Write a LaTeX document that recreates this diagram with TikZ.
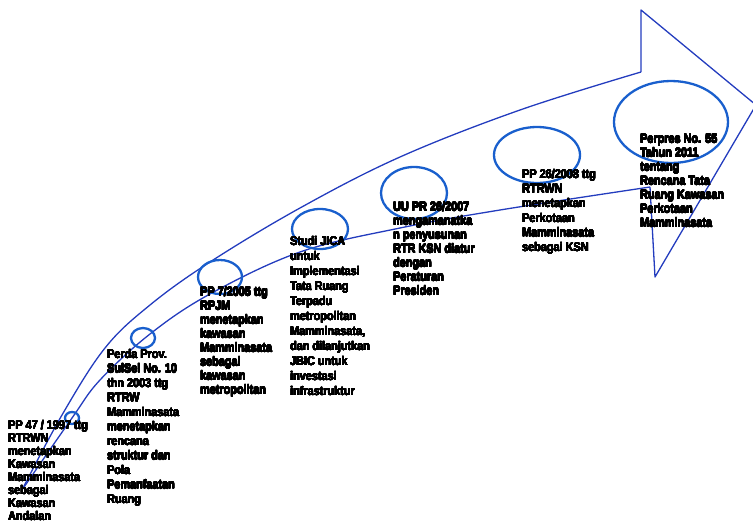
\documentclass[tikz,border=0pt]{standalone}
\usepackage{fontspec}
\setmainfont{Liberation Sans}
\usepackage{graphicx}
\usepackage{contour}
\usetikzlibrary{shapes.geometric}

\definecolor{edgeblue}{RGB}{35,60,190}
\definecolor{ringblue}{RGB}{25,95,205}

\contourlength{0.2pt}
\contournumber{16}
% narrow heavy block of lines, left aligned
\newcommand{\memo}[1]{\contour{black}{\scalebox{0.87}[1]{\begin{tabular}{@{}l@{}}#1\end{tabular}}}}

\tikzset{
    note/.style={anchor=north west, inner sep=0pt,
        font=\bfseries\fontsize{12.5}{14}\selectfont},
    ring/.style={draw=ringblue, line width=2.3pt, ellipse, inner sep=0pt},
    edge/.style={draw=edgeblue, line width=1.3pt, line join=round}
}

\begin{document}
\begin{tikzpicture}[x=1pt, y=-1pt]
    \useasboundingbox (0,0) rectangle (753,525);
    % curved arrow body and head
    \coordinate (tail) at (22,490);
    \coordinate (up) at (641,72);
    \coordinate (top) at (641,10);
    \coordinate (tip) at (756,105);
    \coordinate (bot) at (655,277);
    \coordinate (low) at (650,187);
    \draw[edge] plot[smooth, tension=0.6] coordinates {(22,490) (62,415) (105,348) (150,305) (210,262) (300,208) (400,157) (520,110) (641,72)};
    \draw[edge] plot[smooth, tension=0.6] coordinates {(22,490) (72,418) (100,380) (150,334) (210,294) (300,252) (400,228) (500,210) (650,187)};
    \draw[edge] (up) -- (top) -- (tip) -- (bot) -- (low);

    % rings
    \node[ring, minimum width=14pt, minimum height=12pt] (r1) at (72,418) {};
    \node[ring, minimum width=24pt, minimum height=20pt] (r2) at (143,338) {};
    \node[ring, minimum width=44pt, minimum height=34pt] (r3) at (220,277) {};
    \node[ring, minimum width=56pt, minimum height=40pt] (r4) at (320,229) {};
    \node[ring, minimum width=66pt, minimum height=52pt] (r5) at (414,193) {};
    \node[ring, minimum width=86pt, minimum height=56pt] (r6) at (537,155) {};
    \node[ring, minimum width=114pt, minimum height=82pt] (r7) at (671,122) {};

    % texts
    \node[note, font=\bfseries\fontsize{12.5}{13}\selectfont] (t1) at (8,420) {\memo{PP 47 / 1997 ttg\\RTRWN\\menetapkan\\Kawasan\\Mamminasata\\sebagai\\Kawasan\\Andalan}};
    \node[note, font=\bfseries\fontsize{12.5}{14.5}\selectfont] (t2) at (107,348) {\memo{Perda Prov.\\SulSel No. 10\\thn 2003 ttg\\RTRW\\Mamminasata\\menetapkan\\rencana\\struktur dan\\Pola\\Pemanfaatan\\Ruang}};
    \node[note] (t3) at (200,286) {\memo{PP 7/2005 ttg\\RPJM\\menetapkan\\kawasan\\Mamminasata\\sebagai\\kawasan\\metropolitan}};
    \node[note, font=\bfseries\fontsize{12.5}{15}\selectfont] (t4) at (290,235) {\memo{Studi JICA\\untuk\\Implementasi\\Tata Ruang\\Terpadu\\metropolitan\\Mamminasata,\\dan dilanjutkan\\JBIC untuk\\investasi\\infrastruktur}};
    \node[note] (t5) at (393,201) {\memo{UU PR 26/2007\\mengamanatka\\n penyusunan\\RTR KSN diatur\\dengan\\Peraturan\\Presiden}};
    \node[note, font=\bfseries\fontsize{12.5}{14.6}\selectfont] (t6) at (522,168) {\memo{PP 26/2008 ttg\\RTRWN\\menetapkan\\Perkotaan\\Mamminasata\\sebagai KSN}};
    \node[note] (t7) at (640,133) {\memo{Perpres No. 55\\Tahun 2011\\tentang\\Rencana Tata\\Ruang Kawasan\\Perkotaan\\Mamminasata}};
\end{tikzpicture}
\end{document}
